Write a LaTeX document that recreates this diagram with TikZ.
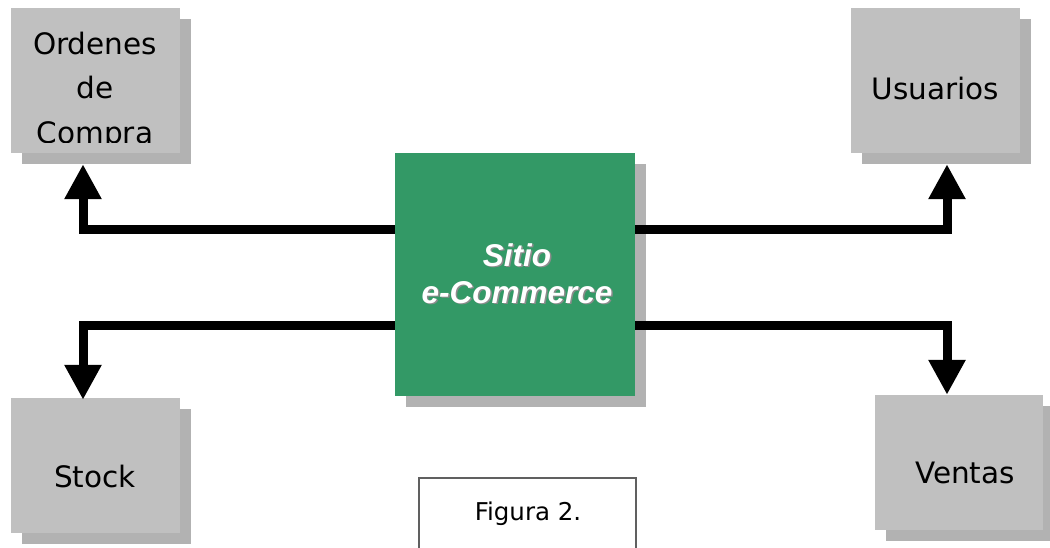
\documentclass[tikz,border=0pt]{standalone}
\usepackage{fontspec}
\setmainfont{DejaVu Sans}
\newfontfamily\sitefont{Liberation Sans}
\usetikzlibrary{arrows.meta,shadows}
\definecolor{boxgray}{HTML}{C0C0C0}
\definecolor{shadowgray}{HTML}{B2B2B2}
\definecolor{sitegreen}{HTML}{339966}
\definecolor{figgray}{HTML}{606060}
\definecolor{txtshadow}{HTML}{8C8C8C}
\tikzset{
  graybox/.style={rectangle, fill=boxgray, inner sep=0pt,
    general shadow={fill=shadowgray, shadow xshift=11pt, shadow yshift=-11pt}},
  sitebox/.style={rectangle, fill=sitegreen, inner sep=0pt,
    general shadow={fill=shadowgray, shadow xshift=11pt, shadow yshift=-11pt}},
  boxtext/.style={inner sep=0pt, anchor=base, font=\fontsize{29.5}{35}\selectfont},
  figtext/.style={inner sep=0pt, anchor=base, font=\fontsize{24.5}{29}\selectfont},
  sitetext/.style={inner sep=0pt, anchor=base, text=white,
    font=\sitefont\bfseries\itshape\fontsize{31.5}{37}\selectfont},
  sitetextshadow/.style={sitetext, text=txtshadow},
  conn/.style={line width=9pt, -{Triangle[width=35pt,length=35pt]}},
  figbox/.style={rectangle, draw=figgray, line width=1.3pt, fill=white, inner sep=0pt}
}
\begin{document}
\begin{tikzpicture}[x=1pt,y=-1pt]
\useasboundingbox (0,0) rectangle (1050,548);
\clip (0,0) rectangle (1050,548);
\fill[white] (0,0) rectangle (1050,548);

% boxes
\node[graybox, minimum width=169pt, minimum height=145pt] (ord) at (95.5,80.5) {};
\node[graybox, minimum width=169pt, minimum height=145pt] (usu) at (935.5,80.5) {};
\node[sitebox, minimum width=240pt, minimum height=243pt] (site) at (515,274.5) {};
\node[graybox, minimum width=169pt, minimum height=135pt] (stock) at (95.5,465.5) {};
\node[graybox, minimum width=168pt, minimum height=135pt] (ventas) at (959,462.5) {};
\node[figbox, minimum width=217pt, minimum height=120pt] (fig) at (527.5,538) {};

% texts
\begin{scope}
  \clip (11,8) rectangle (180,143);
  \node[boxtext] (ord1) at (95,55) {Ordenes};
  \node[boxtext] (ord2) at (95,99) {de};
  \node[boxtext] (ord3) at (95,143.5) {Compra};
\end{scope}
\node[boxtext] (usutxt) at (935.5,100) {Usuarios};
\node[boxtext] (stocktxt) at (95,487) {Stock};
\node[boxtext] (ventastxt) at (965,483) {Ventas};
\node[figtext] (figtxt) at (528,520) {Figura 2.};

\node[sitetextshadow] (site1s) at (518.5,267.5) {Sitio};
\node[sitetextshadow] (site2s) at (518.5,304.5) {e-Commerce};
\node[sitetext] (site1) at (517,266) {Sitio};
\node[sitetext] (site2) at (517,303) {e-Commerce};

% connectors
\draw[conn] ([yshift=44.5pt]site.west) -| ([xshift=-12.5pt,yshift=-11pt]ord.south);
\draw[conn] ([yshift=-50.5pt]site.west) -| ([xshift=-12.5pt,yshift=-2pt]stock.north);
\draw[conn] ([yshift=44.5pt]site.east) -| ([xshift=11.5pt,yshift=-11pt]usu.south);
\draw[conn] ([yshift=-50.5pt]site.east) -| ([xshift=-12pt]ventas.north);
\end{tikzpicture}
\end{document}
